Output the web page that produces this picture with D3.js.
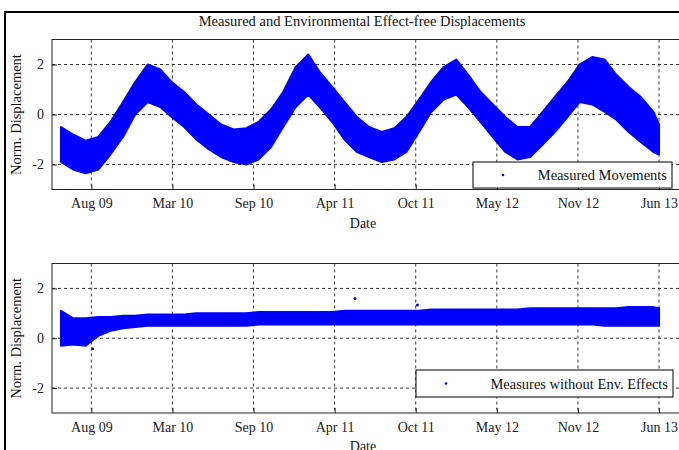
<!DOCTYPE html>
<html>
<head>
<meta charset="utf-8">
<script src="https://cdn.jsdelivr.net/npm/d3@7"></script>
<style>
  body { margin: 0; background: #fff; }
  svg { display: block; }
  svg text { font-family: "Liberation Serif", "DejaVu Serif", serif; }
  .tick text { fill: #222; }
</style>
</head>
<body>
<div id="container"></div>
<script>
// sample dates (monthly) used for the band envelopes
var dates = ["2009-06-01", "2009-07-01", "2009-08-01", "2009-09-01", "2009-10-01", "2009-11-01",
    "2009-12-01", "2010-01-01", "2010-02-01", "2010-03-01", "2010-04-01", "2010-05-01",
    "2010-06-01", "2010-07-01", "2010-08-01", "2010-09-01", "2010-10-01", "2010-11-01",
    "2010-12-01", "2011-01-01", "2011-02-01", "2011-03-01", "2011-04-01", "2011-05-01",
    "2011-06-01", "2011-07-01", "2011-08-01", "2011-09-01", "2011-10-01", "2011-11-01",
    "2011-12-01", "2012-01-01", "2012-02-01", "2012-03-01", "2012-04-01", "2012-05-01",
    "2012-06-01", "2012-07-01", "2012-08-01", "2012-09-01", "2012-10-01", "2012-11-01",
    "2012-12-01", "2013-01-01", "2013-02-01", "2013-03-01", "2013-04-01", "2013-05-01",
    "2013-06-01", "2013-06-15"];

// measured movements: upper / lower edge of the point cloud
var measuredHigh = [-0.5, -0.8, -1.05, -0.9, -0.3, 0.5, 1.3, 2.0, 1.8, 1.3, 0.9, 0.4,
    0.0, -0.4, -0.6, -0.55, -0.3, 0.2, 0.9, 1.9, 2.4, 1.7, 1.1, 0.5,
    -0.1, -0.5, -0.7, -0.55, -0.1, 0.6, 1.3, 1.9, 2.2, 1.6, 0.9, 0.4,
    -0.1, -0.5, -0.5, 0.1, 0.7, 1.3, 2.0, 2.3, 2.2, 1.6, 1.1, 0.7,
    0.1, -0.4];
var measuredLow = [-1.9, -2.2, -2.35, -2.2, -1.6, -0.9, 0.0, 0.5, 0.3, -0.1, -0.5, -1.0,
    -1.4, -1.7, -1.9, -2.0, -1.8, -1.3, -0.5, 0.3, 0.8, 0.3, -0.3, -1.0,
    -1.5, -1.7, -1.9, -1.8, -1.5, -0.7, 0.1, 0.6, 0.8, 0.3, -0.3, -0.9,
    -1.5, -1.8, -1.7, -1.2, -0.7, -0.1, 0.5, 0.4, 0.1, -0.2, -0.7, -1.1,
    -1.5, -1.6];

// measures without environmental effects
var correctedHigh = [1.1, 0.8, 0.8, 0.85, 0.85, 0.9, 0.9, 0.95, 0.95, 0.95, 0.95, 1.0,
    1.0, 1.0, 1.0, 1.0, 1.05, 1.05, 1.05, 1.05, 1.05, 1.05, 1.05, 1.1,
    1.1, 1.1, 1.1, 1.1, 1.1, 1.1, 1.15, 1.15, 1.15, 1.15, 1.15, 1.15,
    1.15, 1.15, 1.2, 1.2, 1.2, 1.2, 1.2, 1.2, 1.2, 1.2, 1.25, 1.25,
    1.25, 1.2];
var correctedLow = [-0.3, -0.25, -0.3, 0.1, 0.3, 0.4, 0.45, 0.5, 0.5, 0.5, 0.5, 0.5,
    0.5, 0.5, 0.5, 0.5, 0.55, 0.55, 0.55, 0.55, 0.55, 0.55, 0.55, 0.55,
    0.55, 0.55, 0.55, 0.55, 0.55, 0.55, 0.55, 0.55, 0.55, 0.55, 0.55, 0.55,
    0.55, 0.55, 0.55, 0.55, 0.55, 0.55, 0.55, 0.55, 0.5, 0.5, 0.5, 0.5,
    0.5, 0.5];

// isolated points outside the bands
var outlierDates = ["2009-08-18", "2011-05-27", "2011-10-28"];
var outlierValues = [-0.42, 1.6, 1.33];

var tickDates = ["2009-08-15", "2010-03-03", "2010-09-19", "2011-04-07", "2011-10-24",
    "2012-05-11", "2012-11-27", "2013-06-15"];
var yTicks = [-2, 0, 2];

var parse = d3.utcParse("%Y-%m-%d");
var serif = "'Liberation Serif', 'DejaVu Serif', serif";

const W = 679, H = 450,
    left = 52, right = 700;

var svg = d3.select("#container")
    .append("svg")
    .attr("width", W)
    .attr("height", H);

// figure frame
svg.append("rect")
    .attr("x", 5).attr("y", 12)
    .attr("width", 800).attr("height", 500)
    .attr("fill", "none")
    .attr("stroke", "#000")
    .attr("stroke-width", 2);

svg.append("text")
    .attr("x", 362).attr("y", 26)
    .attr("text-anchor", "middle")
    .style("font-size", "14.5px")
    .attr("fill", "#111")
    .text("Measured and Environmental Effect-free Displacements");

var x = d3.scaleUtc()
    .domain([parse("2009-05-10"), parse("2013-09-24")])
    .range([left, right]);

function drawPanel(top, bottom, high, low, legendText, legendBox, withOutliers)
{
    var y = d3.scaleLinear().domain([-3, 3]).range([bottom, top]);
    var g = svg.append("g");

    // grid
    g.selectAll("line.vgrid")
        .data(tickDates)
        .enter()
        .append("line")
        .attr("x1", function (d) { return x(parse(d)) })
        .attr("x2", function (d) { return x(parse(d)) })
        .attr("y1", top).attr("y2", bottom)
        .attr("stroke", "#333")
        .attr("stroke-dasharray", "3,3");

    g.selectAll("line.hgrid")
        .data(yTicks)
        .enter()
        .append("line")
        .attr("x1", left).attr("x2", right)
        .attr("y1", function (d) { return y(d) })
        .attr("y2", function (d) { return y(d) })
        .attr("stroke", "#333")
        .attr("stroke-dasharray", "3,3");

    // data band
    var rows = dates.map(function (d, i) { return { date: parse(d), hi: high[i], lo: low[i] } });
    var area = d3.area()
        .x(function (d) { return x(d.date) })
        .y0(function (d) { return y(d.lo) })
        .y1(function (d) { return y(d.hi) });

    g.append("path")
        .datum(rows)
        .attr("d", area)
        .attr("fill", "#0000ff")
        .attr("stroke", "#0000ff")
        .attr("stroke-width", 2)
        .attr("stroke-linejoin", "round");

    if (withOutliers)
    {
        g.selectAll("circle.out")
            .data(outlierDates)
            .enter()
            .append("circle")
            .attr("cx", function (d) { return x(parse(d)) })
            .attr("cy", function (d, i) { return y(outlierValues[i]) })
            .attr("r", 1.5)
            .attr("fill", "#0000ff");
    }

    // axes
    var xAxis = d3.axisBottom(x)
        .tickValues(tickDates.map(parse))
        .tickFormat(d3.utcFormat("%b %y"))
        .tickSizeInner(-5).tickSizeOuter(0).tickPadding(9);
    var ax = g.append("g")
        .attr("transform", "translate(0," + bottom + ")")
        .call(xAxis)
        .attr("font-family", serif);
    ax.select(".domain").remove();
    ax.selectAll("text").style("font-size", "14px").style("font-family", serif);
    ax.selectAll("line").attr("stroke", "#222");

    var yAxis = d3.axisLeft(y)
        .tickValues(yTicks)
        .tickFormat(function (d) { return String(d) })
        .tickSizeInner(-5).tickSizeOuter(0).tickPadding(8);
    var ay = g.append("g")
        .attr("transform", "translate(" + left + ",0)")
        .call(yAxis)
        .attr("font-family", serif);
    ay.select(".domain").remove();
    ay.selectAll("text").style("font-size", "14px").style("font-family", serif);
    ay.selectAll("line").attr("stroke", "#222");

    // axes box
    g.append("rect")
        .attr("x", left).attr("y", top)
        .attr("width", right - left).attr("height", bottom - top)
        .attr("fill", "none")
        .attr("stroke", "#222");

    g.append("text")
        .attr("transform", "translate(21," + ((top + bottom) / 2) + ") rotate(-90)")
        .attr("text-anchor", "middle")
        .style("font-size", "14.5px")
        .attr("fill", "#111")
        .text("Norm. Displacement");

    g.append("text")
        .attr("x", 363).attr("y", bottom + 38)
        .attr("text-anchor", "middle")
        .style("font-size", "14px")
        .attr("fill", "#111")
        .text("Date");

    // legend
    g.append("rect")
        .attr("x", legendBox[0]).attr("y", legendBox[1])
        .attr("width", legendBox[2]).attr("height", legendBox[3])
        .attr("fill", "#fff")
        .attr("stroke", "#000");
    g.append("circle")
        .attr("cx", legendBox[0] + 30).attr("cy", legendBox[1] + legendBox[3] / 2)
        .attr("r", 1.3)
        .attr("fill", "#0000ff");
    g.append("text")
        .attr("x", legendBox[0] + legendBox[2] - 5).attr("y", legendBox[1] + legendBox[3] / 2 + 5)
        .attr("text-anchor", "end")
        .style("font-size", "14.5px")
        .attr("fill", "#111")
        .text(legendText);
}

drawPanel(39.5, 189.5, measuredHigh, measuredLow, "Measured Movements", [473, 162, 199, 26], false);
drawPanel(263.5, 413, correctedHigh, correctedLow, "Measures without Env. Effects", [416, 370, 257, 27], true);
</script>
</body>
</html>
